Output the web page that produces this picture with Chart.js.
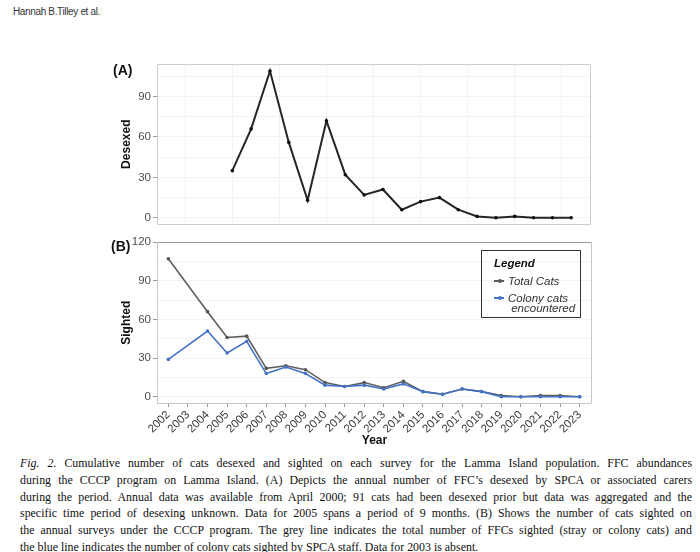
<!DOCTYPE html>
<html>
<head>
<meta charset="utf-8">
<script src="https://cdn.jsdelivr.net/npm/chart.js@4.4.1/dist/chart.umd.min.js"></script>
<style>
  html, body { margin: 0; padding: 0; background: #fff; }
  #page { position: relative; width: 700px; height: 552px; overflow: hidden; background: #fff; }
  .abs { position: absolute; }
  #header { left: 13px; top: 6px; font: 10px "Liberation Sans", Arial, sans-serif; color: #333; letter-spacing: -0.35px; }
  .panel { font: bold 14px "Liberation Sans", Arial, sans-serif; color: #111; }
  #legend { left: 481px; top: 250px; width: 98px; height: 66px; border: 1.5px solid #333;
            font: italic 11.5px "Liberation Sans", Arial, sans-serif; color: #333; }
  #legend .ttl { position: absolute; left: 12px; top: 6px; font-weight: bold; color: #111; }
  #legend .item { position: absolute; left: 26px; line-height: 10px; }
  #legend .sym { position: absolute; left: 12px; width: 10px; height: 1.5px; }
  #legend .sym i { position: absolute; left: 3.5px; top: -1.2px; width: 4px; height: 4px; border-radius: 2px; }
  #caption { left: 20px; top: 455px; width: 722.6px; transform: scaleX(0.93); transform-origin: 0 0;
             font: 12.8px "Liberation Serif", "Times New Roman", serif; color: #111; line-height: 16.8px; }
  #caption div { text-align: justify; text-align-last: justify; white-space: nowrap; }
  #caption div.last { text-align-last: left; }
</style>
</head>
<body>
<div id="page">
  <div id="header" class="abs">Hannah B.Tilley et al.</div>
  <div class="abs" style="left:100px; top:55px; width:500px; height:180px;"><canvas id="chartA"></canvas></div>
  <div class="abs" style="left:100px; top:232px; width:500px; height:220px;"><canvas id="chartB"></canvas></div>
  <div class="abs panel" style="left:113px; top:62px;">(A)</div>
  <div class="abs panel" style="left:111px; top:238px;">(B)</div>
  <div id="legend" class="abs">
    <div class="ttl">Legend</div>
    <div class="sym" style="top:29px; background:#5a5a5a;"><i style="background:#5a5a5a"></i></div>
    <div class="item" style="top:25px;">Total Cats</div>
    <div class="sym" style="top:46px; background:#4472c4;"><i style="background:#4472c4"></i></div>
    <div class="item" style="top:42px;">Colony cats<br>&nbsp;encountered</div>
  </div>
  <div id="caption" class="abs">
    <div><i>Fig. 2.</i> Cumulative number of cats desexed and sighted on each survey for the Lamma Island population. FFC abundances</div>
    <div>during the CCCP program on Lamma Island. (A) Depicts the annual number of FFC’s desexed by SPCA or associated carers</div>
    <div>during the period. Annual data was available from April 2000; 91 cats had been desexed prior but data was aggregated and the</div>
    <div>specific time period of desexing unknown. Data for 2005 spans a period of 9 months. (B) Shows the number of cats sighted on</div>
    <div>the annual surveys under the CCCP program. The grey line indicates the total number of FFCs sighted (stray or colony cats) and</div>
    <div class="last">the blue line indicates the number of colony cats sighted by SPCA staff. Data for 2003 is absent.</div>
  </div>
</div>
<script>
// panel A: desexed per year
const desexYears = [2005, 2006, 2007, 2008, 2009, 2010, 2011, 2012, 2013, 2014, 2015, 2016, 2017, 2018, 2019, 2020, 2021, 2022, 2023]
const desexed = [35, 66, 109, 56, 13, 72, 32, 17, 21, 6, 12, 15, 6, 1, 0, 1, 0, 0, 0]
const desexedTicks = [0, 30, 60, 90]

// panel B: survey sightings (no survey in 2003)
const surveyYears = [2002, 2004, 2005, 2006, 2007, 2008, 2009, 2010, 2011, 2012, 2013, 2014, 2015, 2016, 2017, 2018, 2019, 2020, 2021, 2022, 2023]
const totalCats = [107, 66, 46, 47, 22, 24, 21, 11, 8, 11, 7, 12, 4, 2, 6, 4, 1, 0, 1, 1, 0]
const colonyCats = [29, 51, 34, 43, 18, 23, 18, 9, 8, 9, 6, 10, 4, 2, 6, 4, 0, 0, 0, 0, 0]
const yearLabels = [2002, 2003, 2004, 2005, 2006, 2007, 2008, 2009, 2010, 2011, 2012, 2013, 2014, 2015, 2016, 2017, 2018, 2019, 2020, 2021, 2022, 2023]
const sightedTicks = [0, 30, 60, 90, 120]

Chart.defaults.font.family = '"Liberation Sans", Arial, sans-serif'
Chart.defaults.animation = false

const GRID = '#f3f3f3'
const TICK = '#9a9a9a'
const LABEL = '#4d4d4d'

// ggplot style panel border, one colour per side
const frame = {
  id: 'frame',
  beforeDatasetsDraw(chart, args, opts) {
    const { ctx, chartArea: a } = chart
    const side = (c, x1, y1, x2, y2) => {
      ctx.strokeStyle = c
      ctx.beginPath(); ctx.moveTo(x1, y1); ctx.lineTo(x2, y2); ctx.stroke()
    }
    ctx.save()
    ctx.lineWidth = 1
    const l = Math.round(a.left) + 0.5, r = Math.round(a.right) - 0.5
    const t = Math.round(a.top) + 0.5, b = Math.round(a.bottom) - 0.5
    side(opts.top, l, t, r, t)
    side(opts.right, r, t, r, b)
    side(opts.bottom, l, b, r, b)
    side(opts.left, l, t, l, b)
    ctx.restore()
  }
}

const zip = (xs, ys) => xs.map((x, i) => ({ x: x, y: ys[i] }))

function yAxis(title, ticks, min, max, step) {
  return {
    type: 'linear', min: min, max: max,
    afterFit: (s) => { s.width = 57 },
    afterBuildTicks: (s) => {
      let t = []
      for (let v = 0; v <= ticks[ticks.length - 1] + step / 2 + 15; v += step) { if (v <= max) t.push({ value: v }) }
      s.ticks = t
    },
    border: { display: false },
    grid: {
      color: GRID, tickLength: 4,
      tickColor: (c) => ticks.includes(c.tick.value) ? TICK : 'rgba(0,0,0,0)'
    },
    ticks: {
      padding: 2, color: LABEL, font: { size: 11.5 },
      callback: (v) => ticks.includes(v) ? String(v) : ''
    },
    title: { display: true, text: title, color: '#111', font: { size: 12, weight: 'bold' }, padding: { top: 19, bottom: 0 } }
  }
}

new Chart(document.getElementById('chartA'), {
  type: 'line',
  data: {
    datasets: [{
      data: zip(desexYears, desexed),
      borderColor: '#262626', backgroundColor: '#111',
      borderWidth: 2, pointRadius: 1.8, pointBorderWidth: 0, tension: 0
    }]
  },
  options: {
    responsive: true, maintainAspectRatio: false,
    layout: { padding: { top: 7, right: 9, bottom: 10.5, left: 0 } },
    plugins: {
      legend: { display: false }, tooltip: { enabled: false },
      frame: { top: '#cfcfcf', right: '#cfcfcf', bottom: '#cfcfcf', left: '#cfcfcf' }
    },
    scales: {
      x: {
        type: 'linear', min: 2001, max: 2024.05,
        afterFit: (s) => { s.height = 0 },
        afterBuildTicks: (s) => { s.ticks = [2002.5, 2005, 2007.5, 2010, 2012.5, 2015, 2017.5, 2020, 2022.5].map(v => ({ value: v })) },
        border: { display: false },
        grid: { color: GRID, drawTicks: false },
        ticks: { display: false }
      },
      y: yAxis('Desexed', desexedTicks, -5, 114.3, 15)
    }
  },
  plugins: [frame]
})

new Chart(document.getElementById('chartB'), {
  type: 'line',
  data: {
    datasets: [{
      label: 'Colony cats encountered',
      data: zip(surveyYears, colonyCats),
      borderColor: '#4472c4', backgroundColor: '#4472c4',
      borderWidth: 1.6, pointRadius: 1.8, pointBorderWidth: 0, tension: 0, order: 0
    }, {
      label: 'Total Cats',
      data: zip(surveyYears, totalCats),
      borderColor: '#5e5e5e', backgroundColor: '#555',
      borderWidth: 1.6, pointRadius: 1.8, pointBorderWidth: 0, tension: 0, order: 1
    }]
  },
  options: {
    responsive: true, maintainAspectRatio: false,
    layout: { padding: { top: 9.5, right: 8, bottom: 0, left: 0 } },
    plugins: {
      legend: { display: false }, tooltip: { enabled: false },
      frame: { top: '#9a9a9a', right: '#c8c8c8', bottom: '#c8c8c8', left: '#c8c8c8' }
    },
    scales: {
      x: {
        type: 'linear', min: 2001.42, max: 2023.63,
        afterFit: (s) => { s.height = 48 },
        afterBuildTicks: (s) => { s.ticks = yearLabels.map(v => ({ value: v })) },
        border: { display: false },
        grid: { color: 'rgba(0,0,0,0)', tickColor: TICK, tickLength: 3 },
        ticks: {
          color: '#3a3a3a', font: { size: 11.5 }, padding: 1,
          minRotation: 45, maxRotation: 45, autoSkip: false,
          callback: (v) => String(v)
        },
        title: { display: true, text: 'Year', color: '#111', font: { size: 12, weight: 'bold' }, padding: { top: 0, bottom: 4 } }
      },
      y: yAxis('Sighted', sightedTicks, -5.6, 120.4, 15)
    }
  },
  plugins: [frame]
})
</script>
</body>
</html>
